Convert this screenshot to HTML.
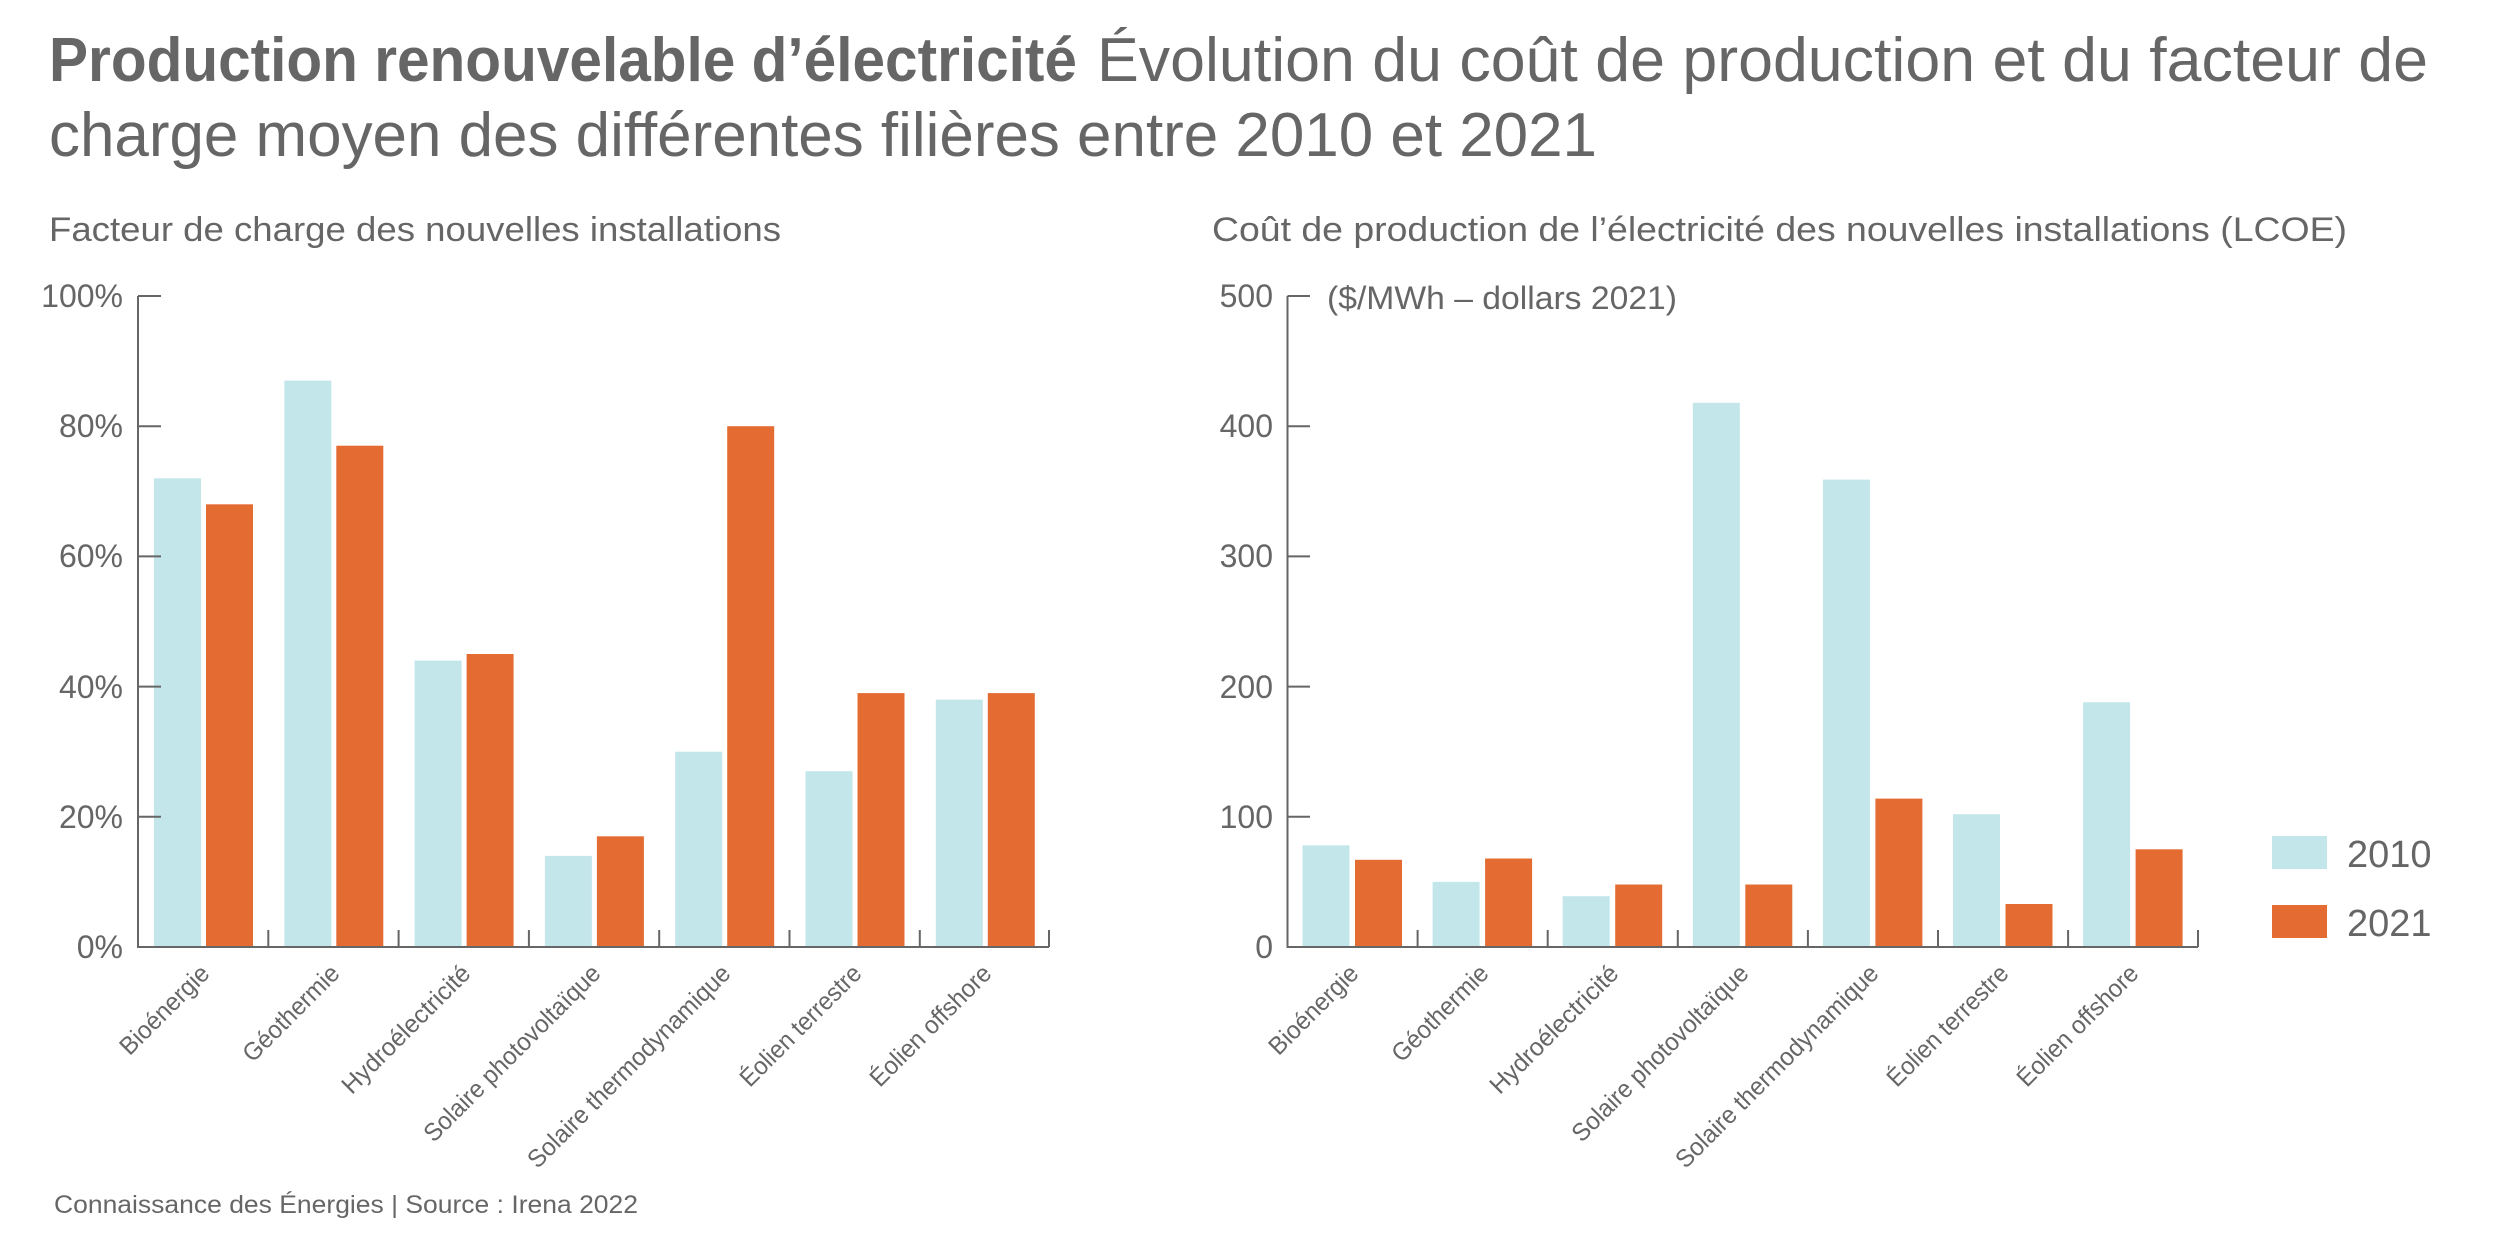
<!DOCTYPE html>
<html><head><meta charset="utf-8"><style>
html,body{margin:0;padding:0;background:#fff}
svg{display:block}
text{font-family:"Liberation Sans",sans-serif;fill:#666}
</style></head><body>
<svg width="2500" height="1250" viewBox="0 0 2500 1250" xmlns="http://www.w3.org/2000/svg">
<text x="49" y="81" font-size="62" font-weight="bold" textLength="1028" lengthAdjust="spacingAndGlyphs">Production renouvelable d’électricité</text>
<text x="1097" y="81" font-size="62" textLength="1331" lengthAdjust="spacingAndGlyphs">Évolution du coût de production et du facteur de</text>
<text x="49" y="156" font-size="62" textLength="1548" lengthAdjust="spacingAndGlyphs">charge moyen des différentes filières entre 2010 et 2021</text>
<text x="49" y="241" font-size="34" textLength="732" lengthAdjust="spacingAndGlyphs">Facteur de charge des nouvelles installations</text>
<text x="1212" y="241" font-size="34" textLength="1135" lengthAdjust="spacingAndGlyphs">Coût de production de l’électricité des nouvelles installations (LCOE)</text>

<!-- LEFT CHART -->
<g fill="#c3e6eb">
<rect x="154" y="478.3" width="47" height="468.7"/>
<rect x="284.3" y="380.6" width="47" height="566.4"/>
<rect x="414.6" y="660.6" width="47" height="286.4"/>
<rect x="544.9" y="855.9" width="47" height="91.1"/>
<rect x="675.2" y="751.7" width="47" height="195.3"/>
<rect x="805.5" y="771.2" width="47" height="175.8"/>
<rect x="935.8" y="699.6" width="47" height="247.4"/>
</g>
<g fill="#e46c33">
<rect x="206" y="504.3" width="47" height="442.7"/>
<rect x="336.3" y="445.7" width="47" height="501.3"/>
<rect x="466.6" y="654" width="47" height="293"/>
<rect x="596.9" y="836.3" width="47" height="110.7"/>
<rect x="727.2" y="426.2" width="47" height="520.8"/>
<rect x="857.5" y="693.1" width="47" height="253.9"/>
<rect x="987.8" y="693.1" width="47" height="253.9"/>
</g>
<g stroke="#666" stroke-width="2" fill="none">
<path d="M138 296V947H1049"/>
<path d="M138 296H161M138 426.2H161M138 556.4H161M138 686.6H161M138 816.8H161"/>
<path d="M268.3 947v-17M398.6 947v-17M528.9 947v-17M659.2 947v-17M789.5 947v-17M919.8 947v-17M1049 947v-17"/>
</g>
<g font-size="32" text-anchor="end">
<text x="123" y="307">100%</text>
<text x="123" y="437">80%</text>
<text x="123" y="567">60%</text>
<text x="123" y="698">40%</text>
<text x="123" y="828">20%</text>
<text x="123" y="958">0%</text>
</g>
<g font-size="25" text-anchor="end" lengthAdjust="spacingAndGlyphs">
<text transform="translate(211,975) rotate(-45)" textLength="115" lengthAdjust="spacingAndGlyphs">Bioénergie</text>
<text transform="translate(341,975) rotate(-45)" textLength="125" lengthAdjust="spacingAndGlyphs">Géothermie</text>
<text transform="translate(472,975) rotate(-45)" textLength="170" lengthAdjust="spacingAndGlyphs">Hydroélectricité</text>
<text transform="translate(602,975) rotate(-45)" textLength="238" lengthAdjust="spacingAndGlyphs">Solaire photovoltaïque</text>
<text transform="translate(732,975) rotate(-45)" textLength="275" lengthAdjust="spacingAndGlyphs">Solaire thermodynamique</text>
<text transform="translate(863,975) rotate(-45)" textLength="160" lengthAdjust="spacingAndGlyphs">Éolien terrestre</text>
<text transform="translate(993,975) rotate(-45)" textLength="160" lengthAdjust="spacingAndGlyphs">Éolien offshore</text>
</g>

<!-- RIGHT CHART -->
<g fill="#c3e6eb">
<rect x="1302.5" y="845.4" width="47" height="101.6"/>
<rect x="1432.6" y="881.9" width="47" height="65.1"/>
<rect x="1562.7" y="896.2" width="47" height="50.8"/>
<rect x="1692.8" y="402.8" width="47" height="544.2"/>
<rect x="1822.9" y="479.6" width="47" height="467.4"/>
<rect x="1953" y="814.2" width="47" height="132.8"/>
<rect x="2083.1" y="702.2" width="47" height="244.8"/>
</g>
<g fill="#e46c33">
<rect x="1355" y="859.8" width="47" height="87.2"/>
<rect x="1485.1" y="858.5" width="47" height="88.5"/>
<rect x="1615.2" y="884.5" width="47" height="62.5"/>
<rect x="1745.3" y="884.5" width="47" height="62.5"/>
<rect x="1875.4" y="798.6" width="47" height="148.4"/>
<rect x="2005.5" y="904" width="47" height="43"/>
<rect x="2135.6" y="849.3" width="47" height="97.7"/>
</g>
<g stroke="#666" stroke-width="2" fill="none">
<path d="M1287.5 296V947H2198"/>
<path d="M1287.5 296H1310M1287.5 426.2H1310M1287.5 556.4H1310M1287.5 686.6H1310M1287.5 816.8H1310"/>
<path d="M1417.6 947v-17M1547.7 947v-17M1677.8 947v-17M1807.9 947v-17M1938 947v-17M2068.1 947v-17M2198 947v-17"/>
</g>
<g font-size="32" text-anchor="end">
<text x="1273" y="307">500</text>
<text x="1273" y="437">400</text>
<text x="1273" y="567">300</text>
<text x="1273" y="698">200</text>
<text x="1273" y="828">100</text>
<text x="1273" y="958">0</text>
</g>
<text x="1327" y="309" font-size="32" textLength="350" lengthAdjust="spacingAndGlyphs">($/MWh – dollars 2021)</text>
<g font-size="25" text-anchor="end">
<text transform="translate(1360,975) rotate(-45)" textLength="115" lengthAdjust="spacingAndGlyphs">Bioénergie</text>
<text transform="translate(1490,975) rotate(-45)" textLength="125" lengthAdjust="spacingAndGlyphs">Géothermie</text>
<text transform="translate(1620,975) rotate(-45)" textLength="170" lengthAdjust="spacingAndGlyphs">Hydroélectricité</text>
<text transform="translate(1750,975) rotate(-45)" textLength="238" lengthAdjust="spacingAndGlyphs">Solaire photovoltaïque</text>
<text transform="translate(1880,975) rotate(-45)" textLength="275" lengthAdjust="spacingAndGlyphs">Solaire thermodynamique</text>
<text transform="translate(2010,975) rotate(-45)" textLength="160" lengthAdjust="spacingAndGlyphs">Éolien terrestre</text>
<text transform="translate(2140,975) rotate(-45)" textLength="160" lengthAdjust="spacingAndGlyphs">Éolien offshore</text>
</g>

<!-- LEGEND -->
<rect x="2272" y="836" width="55" height="33" fill="#c3e6eb"/>
<rect x="2272" y="905" width="55" height="33" fill="#e46c33"/>
<text x="2347" y="867" font-size="38">2010</text>
<text x="2347" y="936" font-size="38">2021</text>

<text x="54" y="1213" font-size="25" textLength="584" lengthAdjust="spacingAndGlyphs">Connaissance des Énergies | Source : Irena 2022</text>
</svg>
</body></html>
